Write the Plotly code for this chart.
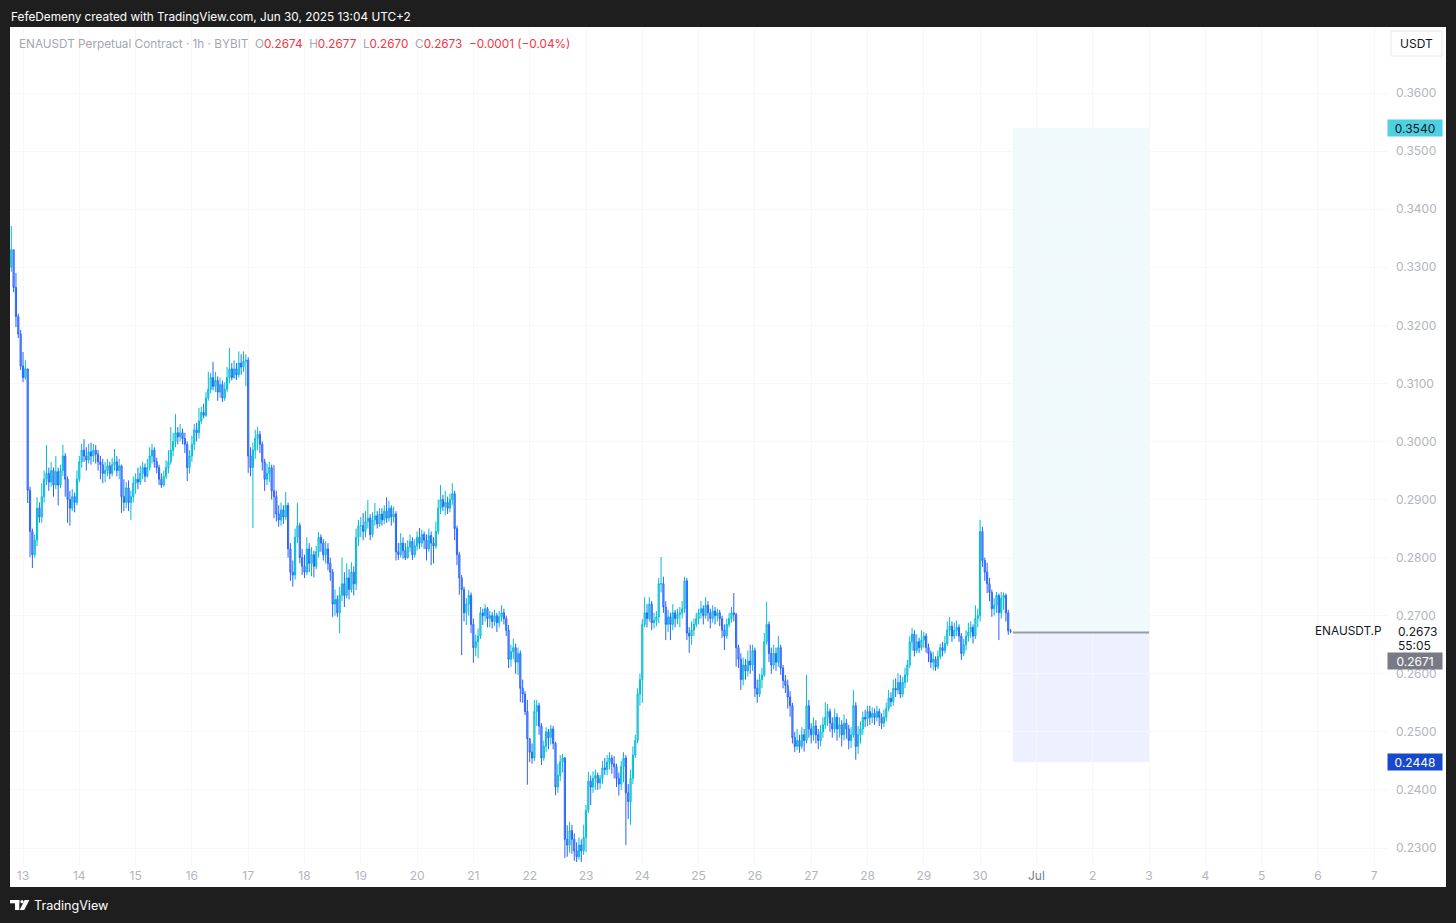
import pandas as pd
import plotly.graph_objects as go

W, H = 1456, 923

# ---------------- data (1h candles, ENAUSDT.P, BYBIT) ----------------
bar_start = "2025-06-12 19:00"
open_first = 0.3300

close_px = [
    # Jun 12 (19:00-23:00)
    0.3330, 0.3265, 0.3215, 0.3185, 0.3130,
    # Jun 13
    0.3110, 0.3125, 0.2916, 0.2845, 0.2805, 0.2830, 0.2885, 0.2870, 0.2905, 0.2935, 0.2945, 0.2930,
    0.2950, 0.2925, 0.2948, 0.2925, 0.2950, 0.2975, 0.2935, 0.2900, 0.2885, 0.2905, 0.2895, 0.2935,
    # Jun 14
    0.2965, 0.2985, 0.2975, 0.2968, 0.2982, 0.2975, 0.2985, 0.2978, 0.2965, 0.2960, 0.2945, 0.2950,
    0.2958, 0.2945, 0.2960, 0.2965, 0.2950, 0.2958, 0.2905, 0.2895, 0.2920, 0.2895, 0.2905, 0.2928,
    # Jun 15
    0.2935, 0.2930, 0.2945, 0.2955, 0.2940, 0.2955, 0.2975, 0.2985, 0.2965, 0.2955, 0.2935, 0.2925,
    0.2940, 0.2955, 0.2965, 0.2985, 0.3000, 0.3015, 0.3008, 0.3015, 0.3005, 0.2995, 0.2955, 0.2975,
    # Jun 16
    0.2995, 0.3020, 0.3015, 0.3035, 0.3050, 0.3045, 0.3075, 0.3090, 0.3110, 0.3095, 0.3105, 0.3085,
    0.3098, 0.3075, 0.3090, 0.3110, 0.3125, 0.3110, 0.3125, 0.3115, 0.3135, 0.3128, 0.3138, 0.3140,
    # Jun 17
    0.2975, 0.2955, 0.2985, 0.3005, 0.3012, 0.2995, 0.2965, 0.2935, 0.2945, 0.2955, 0.2915, 0.2905,
    0.2875, 0.2865, 0.2882, 0.2870, 0.2890, 0.2815, 0.2775, 0.2770, 0.2835, 0.2855, 0.2800, 0.2785,
    # Jun 18
    0.2775, 0.2815, 0.2790, 0.2805, 0.2785, 0.2810, 0.2835, 0.2825, 0.2805, 0.2815, 0.2790, 0.2775,
    0.2720, 0.2728, 0.2705, 0.2735, 0.2755, 0.2735, 0.2765, 0.2745, 0.2775, 0.2755, 0.2835, 0.2855,
    # Jun 19
    0.2855, 0.2845, 0.2862, 0.2868, 0.2840, 0.2865, 0.2872, 0.2858, 0.2875, 0.2865, 0.2880, 0.2868,
    0.2885, 0.2870, 0.2875, 0.2810, 0.2805, 0.2825, 0.2812, 0.2800, 0.2818, 0.2828, 0.2805, 0.2820,
    # Jun 20
    0.2835, 0.2825, 0.2840, 0.2830, 0.2815, 0.2838, 0.2825, 0.2820, 0.2845, 0.2885, 0.2900, 0.2888,
    0.2895, 0.2885, 0.2900, 0.2910, 0.2850, 0.2805, 0.2765, 0.2745, 0.2705, 0.2720, 0.2735, 0.2685,
    # Jun 21
    0.2645, 0.2655, 0.2665, 0.2705, 0.2700, 0.2712, 0.2695, 0.2700, 0.2690, 0.2700, 0.2688, 0.2698,
    0.2705, 0.2695, 0.2675, 0.2625, 0.2638, 0.2645, 0.2620, 0.2635, 0.2575, 0.2565, 0.2535, 0.2488,
    # Jun 22
    0.2465, 0.2455, 0.2535, 0.2545, 0.2510, 0.2455, 0.2475, 0.2500, 0.2490, 0.2505, 0.2480, 0.2405,
    0.2425, 0.2448, 0.2455, 0.2315, 0.2305, 0.2330, 0.2315, 0.2295, 0.2285, 0.2305, 0.2295, 0.2318,
    # Jun 23
    0.2365, 0.2415, 0.2405, 0.2420, 0.2425, 0.2412, 0.2420, 0.2438, 0.2435, 0.2448, 0.2455, 0.2445,
    0.2440, 0.2420, 0.2410, 0.2440, 0.2455, 0.2395, 0.2380, 0.2420, 0.2460, 0.2485, 0.2565, 0.2590,
    # Jun 24
    0.2685, 0.2705, 0.2695, 0.2720, 0.2688, 0.2692, 0.2698, 0.2755, 0.2755, 0.2715, 0.2685, 0.2698,
    0.2685, 0.2705, 0.2695, 0.2702, 0.2705, 0.2712, 0.2760, 0.2670, 0.2665, 0.2675, 0.2685, 0.2695,
    # Jun 25
    0.2705, 0.2712, 0.2700, 0.2718, 0.2705, 0.2695, 0.2708, 0.2700, 0.2705, 0.2695, 0.2675, 0.2665,
    0.2685, 0.2695, 0.2705, 0.2702, 0.2645, 0.2625, 0.2590, 0.2615, 0.2605, 0.2622, 0.2615, 0.2640,
    # Jun 26
    0.2575, 0.2565, 0.2590, 0.2598, 0.2655, 0.2685, 0.2635, 0.2615, 0.2635, 0.2620, 0.2645, 0.2610,
    0.2588, 0.2580, 0.2560, 0.2545, 0.2490, 0.2475, 0.2485, 0.2475, 0.2495, 0.2485, 0.2545, 0.2505,
    # Jun 27
    0.2495, 0.2510, 0.2495, 0.2485, 0.2500, 0.2512, 0.2525, 0.2535, 0.2515, 0.2505, 0.2525, 0.2505,
    0.2512, 0.2495, 0.2515, 0.2505, 0.2485, 0.2495, 0.2545, 0.2475, 0.2495, 0.2505, 0.2525, 0.2522,
    # Jun 28
    0.2535, 0.2525, 0.2532, 0.2525, 0.2535, 0.2525, 0.2515, 0.2525, 0.2540, 0.2558, 0.2552, 0.2575,
    0.2572, 0.2585, 0.2565, 0.2585, 0.2598, 0.2615, 0.2655, 0.2668, 0.2640, 0.2655, 0.2645, 0.2658,
    # Jun 29
    0.2665, 0.2645, 0.2635, 0.2620, 0.2625, 0.2612, 0.2630, 0.2645, 0.2640, 0.2652, 0.2675, 0.2682,
    0.2665, 0.2675, 0.2680, 0.2665, 0.2635, 0.2650, 0.2665, 0.2672, 0.2680, 0.2665, 0.2695, 0.2700,
    # Jun 30 (00:00-13:00)
    0.2845, 0.2795, 0.2775, 0.2755, 0.2740, 0.2712, 0.2718, 0.2735, 0.2705, 0.2730, 0.2735, 0.2705,
    0.2674, 0.2673,
]

high_px = [
    0.3371, 0.3330, 0.3290, 0.3220, 0.3192,
    0.3154, 0.3140, 0.3125, 0.2922, 0.2850, 0.2840, 0.2904, 0.2895, 0.2928, 0.2950, 0.2994, 0.2955,
    0.2965, 0.2955, 0.2975, 0.2955, 0.2960, 0.2994, 0.2980, 0.2940, 0.2915, 0.2918, 0.2912, 0.2950,
    0.2975, 0.2996, 0.3004, 0.2990, 0.2996, 0.2998, 0.2996, 0.2994, 0.2985, 0.2975, 0.2970, 0.2965,
    0.2970, 0.2965, 0.2972, 0.2987, 0.2975, 0.2970, 0.2960, 0.2935, 0.2930, 0.2933, 0.2915, 0.2940,
    0.2945, 0.2955, 0.2958, 0.2965, 0.2962, 0.2970, 0.2990, 0.2996, 0.2990, 0.2972, 0.2960, 0.2945,
    0.2950, 0.2968, 0.2985, 0.3025, 0.3015, 0.3047, 0.3025, 0.3030, 0.3022, 0.3015, 0.3000, 0.2985,
    0.3010, 0.3030, 0.3032, 0.3058, 0.3060, 0.3065, 0.3085, 0.3120, 0.3118, 0.3137, 0.3120, 0.3112,
    0.3110, 0.3105, 0.3102, 0.3128, 0.3161, 0.3135, 0.3140, 0.3135, 0.3155, 0.3150, 0.3155, 0.3150,
    0.3145, 0.2990, 0.2998, 0.3020, 0.3025, 0.3018, 0.3000, 0.2970, 0.2962, 0.2965, 0.2960, 0.2959,
    0.2915, 0.2890, 0.2895, 0.2890, 0.2913, 0.2895, 0.2825, 0.2795, 0.2850, 0.2894, 0.2860, 0.2815,
    0.2805, 0.2835, 0.2825, 0.2818, 0.2812, 0.2820, 0.2844, 0.2840, 0.2832, 0.2828, 0.2825, 0.2800,
    0.2780, 0.2745, 0.2735, 0.2750, 0.2800, 0.2775, 0.2790, 0.2780, 0.2792, 0.2785, 0.2850, 0.2865,
    0.2870, 0.2877, 0.2880, 0.2899, 0.2875, 0.2878, 0.2894, 0.2880, 0.2885, 0.2885, 0.2890, 0.2904,
    0.2898, 0.2890, 0.2888, 0.2880, 0.2825, 0.2842, 0.2835, 0.2825, 0.2830, 0.2840, 0.2835, 0.2832,
    0.2845, 0.2851, 0.2848, 0.2845, 0.2840, 0.2850, 0.2845, 0.2835, 0.2862, 0.2900, 0.2925, 0.2908,
    0.2915, 0.2905, 0.2910, 0.2928, 0.2915, 0.2855, 0.2810, 0.2770, 0.2750, 0.2730, 0.2744, 0.2740,
    0.2695, 0.2667, 0.2678, 0.2715, 0.2712, 0.2720, 0.2715, 0.2708, 0.2706, 0.2710, 0.2705, 0.2708,
    0.2718, 0.2712, 0.2700, 0.2684, 0.2650, 0.2660, 0.2652, 0.2645, 0.2640, 0.2590, 0.2570, 0.2555,
    0.2489, 0.2480, 0.2555, 0.2555, 0.2550, 0.2515, 0.2485, 0.2508, 0.2505, 0.2512, 0.2510, 0.2483,
    0.2445, 0.2460, 0.2462, 0.2457, 0.2339, 0.2345, 0.2340, 0.2325, 0.2310, 0.2318, 0.2315, 0.2340,
    0.2374, 0.2431, 0.2425, 0.2432, 0.2435, 0.2430, 0.2426, 0.2450, 0.2455, 0.2460, 0.2465, 0.2460,
    0.2458, 0.2445, 0.2430, 0.2450, 0.2465, 0.2460, 0.2410, 0.2435, 0.2475, 0.2495, 0.2575, 0.2600,
    0.2694, 0.2732, 0.2720, 0.2732, 0.2725, 0.2705, 0.2708, 0.2765, 0.2801, 0.2767, 0.2725, 0.2710,
    0.2705, 0.2720, 0.2710, 0.2712, 0.2715, 0.2725, 0.2767, 0.2765, 0.2680, 0.2690, 0.2695, 0.2705,
    0.2712, 0.2725, 0.2718, 0.2732, 0.2725, 0.2712, 0.2718, 0.2715, 0.2712, 0.2710, 0.2700, 0.2685,
    0.2695, 0.2705, 0.2715, 0.2739, 0.2705, 0.2650, 0.2635, 0.2628, 0.2625, 0.2640, 0.2650, 0.2650,
    0.2645, 0.2590, 0.2600, 0.2610, 0.2670, 0.2724, 0.2690, 0.2645, 0.2650, 0.2645, 0.2665, 0.2650,
    0.2615, 0.2598, 0.2590, 0.2570, 0.2550, 0.2500, 0.2505, 0.2495, 0.2508, 0.2505, 0.2598, 0.2555,
    0.2515, 0.2525, 0.2520, 0.2505, 0.2512, 0.2525, 0.2551, 0.2548, 0.2540, 0.2525, 0.2540, 0.2532,
    0.2525, 0.2520, 0.2530, 0.2522, 0.2512, 0.2508, 0.2572, 0.2551, 0.2510, 0.2518, 0.2535, 0.2538,
    0.2545, 0.2545, 0.2542, 0.2540, 0.2545, 0.2540, 0.2532, 0.2538, 0.2550, 0.2572, 0.2568, 0.2590,
    0.2592, 0.2601, 0.2598, 0.2595, 0.2610, 0.2624, 0.2665, 0.2679, 0.2675, 0.2668, 0.2662, 0.2675,
    0.2672, 0.2670, 0.2652, 0.2640, 0.2638, 0.2630, 0.2640, 0.2652, 0.2655, 0.2665, 0.2690, 0.2698,
    0.2690, 0.2688, 0.2692, 0.2685, 0.2670, 0.2660, 0.2675, 0.2688, 0.2690, 0.2685, 0.2718, 0.2712,
    0.2865, 0.2853, 0.2800, 0.2791, 0.2765, 0.2745, 0.2730, 0.2741, 0.2738, 0.2741, 0.2740, 0.2738,
    0.2710, 0.2677,
]

low_px = [
    0.3292, 0.3257, 0.3197, 0.3178, 0.3123,
    0.3102, 0.3106, 0.2894, 0.2801, 0.2782, 0.2800, 0.2820, 0.2860, 0.2860, 0.2895, 0.2925, 0.2915,
    0.2922, 0.2905, 0.2918, 0.2890, 0.2920, 0.2940, 0.2905, 0.2860, 0.2855, 0.2880, 0.2878, 0.2890,
    0.2930, 0.2955, 0.2965, 0.2950, 0.2962, 0.2960, 0.2965, 0.2962, 0.2950, 0.2935, 0.2928, 0.2930,
    0.2940, 0.2935, 0.2940, 0.2950, 0.2940, 0.2935, 0.2877, 0.2880, 0.2885, 0.2880, 0.2865, 0.2895,
    0.2910, 0.2918, 0.2925, 0.2935, 0.2930, 0.2938, 0.2950, 0.2962, 0.2955, 0.2945, 0.2925, 0.2920,
    0.2922, 0.2935, 0.2945, 0.2960, 0.2975, 0.2990, 0.2995, 0.3000, 0.2995, 0.2980, 0.2932, 0.2945,
    0.2965, 0.2985, 0.3000, 0.3005, 0.3030, 0.3040, 0.3042, 0.3070, 0.3083, 0.3088, 0.3085, 0.3070,
    0.3075, 0.3068, 0.3070, 0.3085, 0.3100, 0.3105, 0.3108, 0.3106, 0.3110, 0.3115, 0.3120, 0.3095,
    0.2946, 0.2940, 0.2851, 0.2970, 0.2985, 0.2980, 0.2950, 0.2915, 0.2925, 0.2930, 0.2900, 0.2868,
    0.2862, 0.2853, 0.2855, 0.2858, 0.2865, 0.2800, 0.2760, 0.2750, 0.2762, 0.2825, 0.2790, 0.2770,
    0.2765, 0.2770, 0.2775, 0.2768, 0.2766, 0.2780, 0.2800, 0.2810, 0.2795, 0.2790, 0.2778, 0.2760,
    0.2698, 0.2700, 0.2698, 0.2670, 0.2725, 0.2715, 0.2730, 0.2728, 0.2740, 0.2735, 0.2744, 0.2820,
    0.2835, 0.2830, 0.2835, 0.2850, 0.2830, 0.2835, 0.2855, 0.2850, 0.2853, 0.2855, 0.2858, 0.2860,
    0.2862, 0.2855, 0.2860, 0.2795, 0.2796, 0.2800, 0.2798, 0.2796, 0.2798, 0.2810, 0.2796, 0.2800,
    0.2812, 0.2815, 0.2818, 0.2815, 0.2795, 0.2810, 0.2787, 0.2790, 0.2815, 0.2840, 0.2875, 0.2880,
    0.2873, 0.2875, 0.2878, 0.2890, 0.2830, 0.2787, 0.2736, 0.2632, 0.2690, 0.2684, 0.2700, 0.2670,
    0.2619, 0.2630, 0.2627, 0.2660, 0.2684, 0.2690, 0.2680, 0.2680, 0.2678, 0.2682, 0.2672, 0.2680,
    0.2690, 0.2685, 0.2665, 0.2610, 0.2612, 0.2625, 0.2600, 0.2598, 0.2551, 0.2550, 0.2529, 0.2409,
    0.2448, 0.2445, 0.2450, 0.2510, 0.2495, 0.2443, 0.2450, 0.2465, 0.2470, 0.2478, 0.2470, 0.2391,
    0.2395, 0.2415, 0.2430, 0.2283, 0.2285, 0.2292, 0.2290, 0.2278, 0.2276, 0.2280, 0.2276, 0.2288,
    0.2293, 0.2360, 0.2374, 0.2395, 0.2400, 0.2400, 0.2402, 0.2410, 0.2426, 0.2425, 0.2435, 0.2428,
    0.2420, 0.2405, 0.2390, 0.2400, 0.2413, 0.2305, 0.2350, 0.2340, 0.2410, 0.2455, 0.2480, 0.2545,
    0.2550, 0.2680, 0.2680, 0.2690, 0.2675, 0.2678, 0.2682, 0.2687, 0.2740, 0.2705, 0.2658, 0.2672,
    0.2658, 0.2675, 0.2680, 0.2685, 0.2680, 0.2695, 0.2705, 0.2658, 0.2636, 0.2650, 0.2665, 0.2680,
    0.2685, 0.2695, 0.2685, 0.2695, 0.2690, 0.2678, 0.2688, 0.2685, 0.2690, 0.2682, 0.2662, 0.2641,
    0.2660, 0.2680, 0.2688, 0.2690, 0.2612, 0.2610, 0.2572, 0.2580, 0.2590, 0.2595, 0.2600, 0.2605,
    0.2560, 0.2550, 0.2560, 0.2575, 0.2595, 0.2650, 0.2620, 0.2600, 0.2608, 0.2605, 0.2612, 0.2598,
    0.2575, 0.2567, 0.2540, 0.2526, 0.2480, 0.2465, 0.2469, 0.2464, 0.2470, 0.2466, 0.2480, 0.2490,
    0.2480, 0.2485, 0.2480, 0.2470, 0.2475, 0.2490, 0.2505, 0.2510, 0.2500, 0.2490, 0.2498, 0.2485,
    0.2490, 0.2475, 0.2485, 0.2488, 0.2470, 0.2472, 0.2490, 0.2452, 0.2462, 0.2480, 0.2495, 0.2508,
    0.2510, 0.2512, 0.2515, 0.2512, 0.2518, 0.2510, 0.2505, 0.2508, 0.2518, 0.2535, 0.2543, 0.2545,
    0.2560, 0.2565, 0.2558, 0.2560, 0.2575, 0.2585, 0.2610, 0.2640, 0.2630, 0.2635, 0.2636, 0.2640,
    0.2645, 0.2636, 0.2620, 0.2610, 0.2606, 0.2605, 0.2608, 0.2625, 0.2630, 0.2635, 0.2648, 0.2665,
    0.2655, 0.2660, 0.2665, 0.2655, 0.2624, 0.2630, 0.2640, 0.2655, 0.2662, 0.2652, 0.2660, 0.2680,
    0.2690, 0.2784, 0.2760, 0.2739, 0.2725, 0.2698, 0.2700, 0.2705, 0.2658, 0.2695, 0.2710, 0.2690,
    0.2667, 0.2670,
]

# axis ticks
x_tick_dates = ["2025-06-%02d" % d for d in range(13, 31)] + ["2025-07-%02d" % d for d in range(1, 8)]
x_tick_labels = [str(d) for d in range(13, 31)] + ["<span style='color:#787b86'>Jul</span>"] + [str(d) for d in range(2, 8)]
y_ticks = [0.23, 0.24, 0.25, 0.26, 0.27, 0.28, 0.29, 0.30, 0.31, 0.32, 0.33, 0.34, 0.35, 0.36]

# long-position tool
position_start = "2025-06-30 14:00"
position_end = "2025-07-03 00:00"
target_px = 0.3540
entry_px = 0.2671
stop_px = 0.2448
countdown = "55:05"

# visible window
x_range = ["2025-06-12 18:27:30", "2025-07-07 05:53:00"]
y_range = [0.227073, 0.371364]

# ---------------- build ----------------
n = min(len(close_px), len(high_px), len(low_px))
close_px, high_px, low_px = close_px[:n], high_px[:n], low_px[:n]
open_px = [open_first] + close_px[:-1]
high_fix = [max(h, o, c) for h, o, c in zip(high_px, open_px, close_px)]
low_fix = [min(l, o, c) for l, o, c in zip(low_px, open_px, close_px)]
times = pd.date_range(bar_start, periods=n, freq="h")

UP = "#00bcd4"
DN = "#2962ff"
FONT = "Inter, Roboto, Noto Sans, sans-serif"
GRID = "#f7f7f9"
AXIS_TXT = "#b2b5be"

fig = go.Figure()
fig.add_trace(go.Candlestick(
    x=times, open=open_px, high=high_fix, low=low_fix, close=close_px,
    increasing=dict(line=dict(color=UP, width=1), fillcolor="rgba(0,188,212,0.5)"),
    decreasing=dict(line=dict(color=DN, width=1), fillcolor="rgba(41,98,255,0.5)"),
    whiskerwidth=0, hoverinfo="skip", showlegend=False,
))


def px(xp):
    return xp / W


def py(yp):
    return 1 - yp / H


shapes = []
# position zones
shapes.append(dict(type="rect", xref="x", yref="y", x0=position_start, x1=position_end,
                   y0=entry_px, y1=target_px, fillcolor="rgba(0,176,220,0.06)",
                   line=dict(width=0), layer="below"))
shapes.append(dict(type="rect", xref="x", yref="y", x0=position_start, x1=position_end,
                   y0=stop_px, y1=entry_px, fillcolor="rgba(41,98,255,0.085)",
                   line=dict(width=0), layer="below"))
shapes.append(dict(type="line", xref="x", yref="y", x0=position_start, x1=position_end,
                   y0=entry_px, y1=entry_px, line=dict(color="#9a9ca5", width=2)))
# dark frame
DARK = "#1e1e1e"
for x0, x1, y0, y1 in [(0, W, 0, 27), (0, W, 887, H), (0, 10, 0, H), (1446, W, 0, H)]:
    shapes.append(dict(type="rect", xref="paper", yref="paper", x0=px(x0), x1=px(x1),
                       y0=py(y1), y1=py(y0), fillcolor=DARK, line=dict(width=0), layer="above"))
# USDT button
shapes.append(dict(type="rect", xref="paper", yref="paper", x0=px(1391), x1=px(1442),
                   y0=py(56), y1=py(31), fillcolor="white", line=dict(color="#e6e8ee", width=1),
                   layer="above"))
# TradingView logo glyph
logo_col = "white"
for x0, x1, y0, y1 in [(10, 19.3, 900, 903.3), (15, 19.3, 900, 910)]:
    shapes.append(dict(type="rect", xref="paper", yref="paper", x0=px(x0), x1=px(x1),
                       y0=py(y1), y1=py(y0), fillcolor=logo_col, line=dict(width=0), layer="above"))
shapes.append(dict(type="circle", xref="paper", yref="paper", x0=px(20.4), x1=px(23.6),
                   y0=py(903.3), y1=py(900), fillcolor=logo_col, line=dict(width=0), layer="above"))
shapes.append(dict(type="path", xref="paper", yref="paper",
                   path="M %f %f L %f %f L %f %f L %f %f Z" % (px(24.6), py(900), px(29.4), py(900),
                                                           px(24.2), py(910), px(19.6), py(910)),
                   fillcolor=logo_col, line=dict(width=0), layer="above"))

# legend text
o_last, h_last, l_last, c_last = open_px[-1], high_fix[-1], low_fix[-1], close_px[-1]
chg = c_last - o_last
chg_pct = chg / o_last * 100
RED = "#f23645"
GRAYT = "#a3a6af"
sign = "\u2212" if chg < 0 else "+"
legend = ("<span style='color:%s'>ENAUSDT Perpetual Contract \u00b7 1h \u00b7 BYBIT</span>\u00a0\u00a0" % GRAYT)
for lab, val in [("O", o_last), ("H", h_last), ("L", l_last), ("C", c_last)]:
    legend += "<span style='color:%s'>%s</span><span style='color:%s'>%.4f</span>\u00a0\u00a0" % (GRAYT, lab, RED, val)
legend += "<span style='color:%s'>%s%.4f (%s%.2f%%)</span>" % (RED, sign, abs(chg), sign, abs(chg_pct))

annotations = [
    dict(text="FefeDemeny created with TradingView.com, Jun 30, 2025 13:04 UTC+2",
         xref="paper", yref="paper", x=px(9), y=py(17), xanchor="left", yanchor="middle",
         showarrow=False, font=dict(color="white", size=11.8, family=FONT)),
    dict(text=legend, xref="paper", yref="paper", x=px(17), y=py(44), xanchor="left", yanchor="middle",
         showarrow=False, font=dict(size=11.75, family=FONT)),
    dict(text="USDT", xref="paper", yref="paper", x=px(1416.5), y=py(44), xanchor="center",
         yanchor="middle", showarrow=False, font=dict(color="#131722", size=12, family=FONT)),
    dict(text="TradingView", xref="paper", yref="paper", x=px(32), y=py(905.5), xanchor="left",
         yanchor="middle", showarrow=False, font=dict(color="white", size=12.6, family=FONT)),
    # price-scale labels
    dict(text="%.4f" % target_px, xref="paper", yref="y", x=px(1415), y=target_px, xanchor="center",
         yanchor="middle", showarrow=False, bgcolor="#4dd0e1", width=52, height=14, borderpad=1,
         font=dict(color="#131722", size=12, family=FONT)),
    dict(text="%.4f" % stop_px, xref="paper", yref="y", x=px(1415), y=stop_px, xanchor="center",
         yanchor="middle", showarrow=False, bgcolor="#1848cc", width=52, height=14, borderpad=1,
         font=dict(color="white", size=12, family=FONT)),
    dict(text="%.4f" % entry_px, xref="paper", yref="y", x=px(1415), y=entry_px, yshift=-28,
         xanchor="center", yanchor="middle", showarrow=False, bgcolor="#787b86", width=52, height=14,
         borderpad=1, font=dict(color="white", size=12, family=FONT)),
    dict(text="%.4f" % c_last, xref="paper", yref="y", x=px(1396), y=c_last, xanchor="left",
         yanchor="middle", showarrow=False, font=dict(color="#131722", size=12, family=FONT)),
    dict(text=countdown, xref="paper", yref="y", x=px(1396), y=c_last, yshift=-14, xanchor="left",
         yanchor="middle", showarrow=False, font=dict(color="#131722", size=12, family=FONT)),
    dict(text="ENAUSDT.P", xref="paper", yref="y", x=px(1384), y=c_last, xanchor="right",
         yanchor="middle", showarrow=False, font=dict(color="#131722", size=11.8, family=FONT)),
]

fig.update_layout(
    width=W, height=H, margin=dict(l=0, r=0, t=0, b=0),
    paper_bgcolor="white", plot_bgcolor="rgba(0,0,0,0)", showlegend=False,
    font=dict(family=FONT),
    xaxis=dict(domain=[px(10), px(1388)], type="date", range=x_range,
               rangeslider=dict(visible=False), tickmode="array", tickvals=x_tick_dates,
               ticktext=x_tick_labels, showgrid=True, gridcolor=GRID, gridwidth=1,
               zeroline=False, showline=False, ticks="", fixedrange=True, ticklabelstandoff=2,
               tickfont=dict(size=12, color=AXIS_TXT, family=FONT)),
    yaxis=dict(domain=[py(865), py(27)], range=y_range, side="right", tickmode="array",
               tickvals=y_ticks, tickformat=".4f", showgrid=True, gridcolor=GRID, gridwidth=1,
               zeroline=False, showline=False, ticks="", ticklabelstandoff=7, fixedrange=True,
               tickfont=dict(size=12, color=AXIS_TXT, family=FONT)),
    shapes=shapes, annotations=annotations,
)

fig.write_html("out.html", config={"displayModeBar": False},
               post_script="document.body.style.margin='0';document.body.style.overflow='hidden';")
